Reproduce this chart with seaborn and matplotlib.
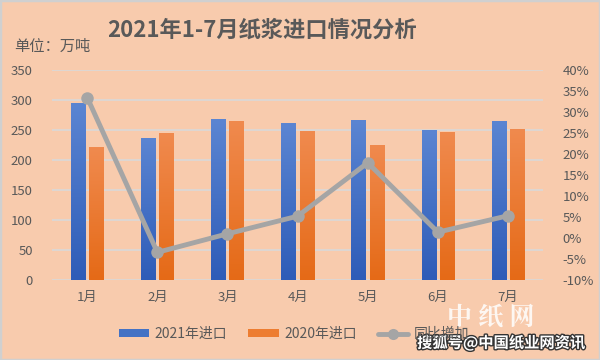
import numpy as np
import pandas as pd
import matplotlib
matplotlib.use('Agg')
import matplotlib.pyplot as plt
import matplotlib.patheffects as pe
from matplotlib.lines import Line2D
from matplotlib.patches import Patch, Rectangle
from matplotlib.colors import LinearSegmentedColormap
from matplotlib.ticker import FuncFormatter
import seaborn as sns

# data
months = ['1月', '2月', '3月', '4月', '5月', '6月', '7月']
import_2021 = [295, 237, 268, 261, 267, 250, 265]
import_2020 = [221, 245, 265, 248, 225, 247, 252]
yoy_pct = [33.4, -3.4, 1.0, 5.2, 17.9, 1.4, 5.3]
left_ticks = [0, 50, 100, 150, 200, 250, 300, 350]
right_ticks = [-10, -5, 0, 5, 10, 15, 20, 25, 30, 35, 40]

BG = '#F8CBAD'
TXT = '#595959'
BLUE = '#4472C4'
ORANGE = '#ED7D31'
GRAY = '#A5A5A5'

sns.set_theme(style='white')
plt.rcParams['font.family'] = ['Noto Sans CJK SC', 'DejaVu Sans']
plt.rcParams['axes.unicode_minus'] = False

df = pd.DataFrame({
    'month': months * 2,
    'value': import_2021 + import_2020,
    'series': ['2021年进口'] * 7 + ['2020年进口'] * 7,
})

fig = plt.figure(figsize=(6, 3.6), dpi=100, facecolor=BG)
fig.patches.append(Rectangle((0, 0), 1, 1, transform=fig.transFigure,
                             fill=False, edgecolor='#D0D0D0', linewidth=2.5))
ax = fig.add_axes([0.087, 0.222, 0.818, 0.584])
ax.set_facecolor(BG)

sns.barplot(data=df, x='month', y='value', hue='series',
            palette=[BLUE, ORANGE], width=0.52, gap=0.22, linewidth=0,
            legend=False, ax=ax, zorder=2)

# gradient fill on the bars (lighter at top, darker at bottom)
grad = np.linspace(1, 0, 64).reshape(-1, 1)
cmaps = {
    BLUE: LinearSegmentedColormap.from_list('b', ['#2E5CB8', '#5B85D2']),
    ORANGE: LinearSegmentedColormap.from_list('o', ['#E56A17', '#F08A4E']),
}
for i, bar in enumerate(ax.patches):
    c = BLUE if i < 7 else ORANGE
    x0, y0 = bar.get_x(), bar.get_y()
    w, h = bar.get_width(), bar.get_height()
    im = ax.imshow(grad, cmap=cmaps[c], aspect='auto',
                   extent=(x0, x0 + w, y0, y0 + h), zorder=2.1)
    im.set_clip_path(bar)

ax.set_xlim(-0.5, 6.5)
ax.set_ylim(0, 350)
ax.set_yticks(left_ticks)
ax.grid(axis='y', color='#D9D9D9', linewidth=1.2, zorder=0)
ax.set_axisbelow(True)
for s in ax.spines.values():
    s.set_visible(False)
ax.set_xlabel('')
ax.set_ylabel('')
ax.tick_params(axis='y', length=0, pad=14, labelsize=9.5, labelcolor=TXT)
ax.tick_params(axis='x', length=0, pad=8, labelsize=9.5, labelcolor=TXT)

ax2 = ax.twinx()
sns.lineplot(x=np.arange(len(months)), y=yoy_pct, ax=ax2, color=GRAY,
             linewidth=3.5, marker='o', markersize=9, markeredgewidth=0,
             zorder=3)
ax2.set_ylim(-10, 40)
ax2.set_yticks(right_ticks)
ax2.yaxis.set_major_formatter(FuncFormatter(lambda v, p: f'{v:.0f}%'))
ax2.tick_params(axis='y', length=0, pad=14, labelsize=9.5, labelcolor=TXT)
ax2.grid(False)
for s in ax2.spines.values():
    s.set_visible(False)
ax2.set_ylabel('')
ax2.set_xlim(-0.5, 6.5)

fig.text(0.436, 0.915, '2021年1-7月纸浆进口情况分析', ha='center', va='center',
         fontsize=16, fontweight='bold', color=TXT)
fig.text(0.024, 0.87, '单位：万吨', ha='left', va='center',
         fontsize=11, color=TXT)

handles = [Patch(facecolor=BLUE, edgecolor='none'),
           Patch(facecolor=ORANGE, edgecolor='none'),
           Line2D([0], [0], color=GRAY, linewidth=3.5, marker='o',
                  markersize=8, markeredgewidth=0)]
leg = fig.legend(handles, ['2021年进口', '2020年进口', '同比增加'],
                 loc='center', bbox_to_anchor=(0.49, 0.072), ncol=3,
                 frameon=False, fontsize=10, handlelength=2.2,
                 handleheight=0.45, columnspacing=1.5, handletextpad=0.4)
for t in leg.get_texts():
    t.set_color(TXT)

# watermark
fig.text(0.818, 0.115, '中 纸 网', ha='center', va='center', fontsize=18,
         fontweight='bold', color='white', alpha=0.85,
         family=['Noto Serif CJK SC', 'Noto Sans CJK SC'])
fig.text(0.835, 0.047, '搜狐号@中国纸业网资讯', ha='center', va='center',
         fontsize=11, fontweight='bold', color='white',
         path_effects=[pe.withStroke(linewidth=2, foreground='#333333')])

fig.savefig('out.png', dpi=100, facecolor=BG)
